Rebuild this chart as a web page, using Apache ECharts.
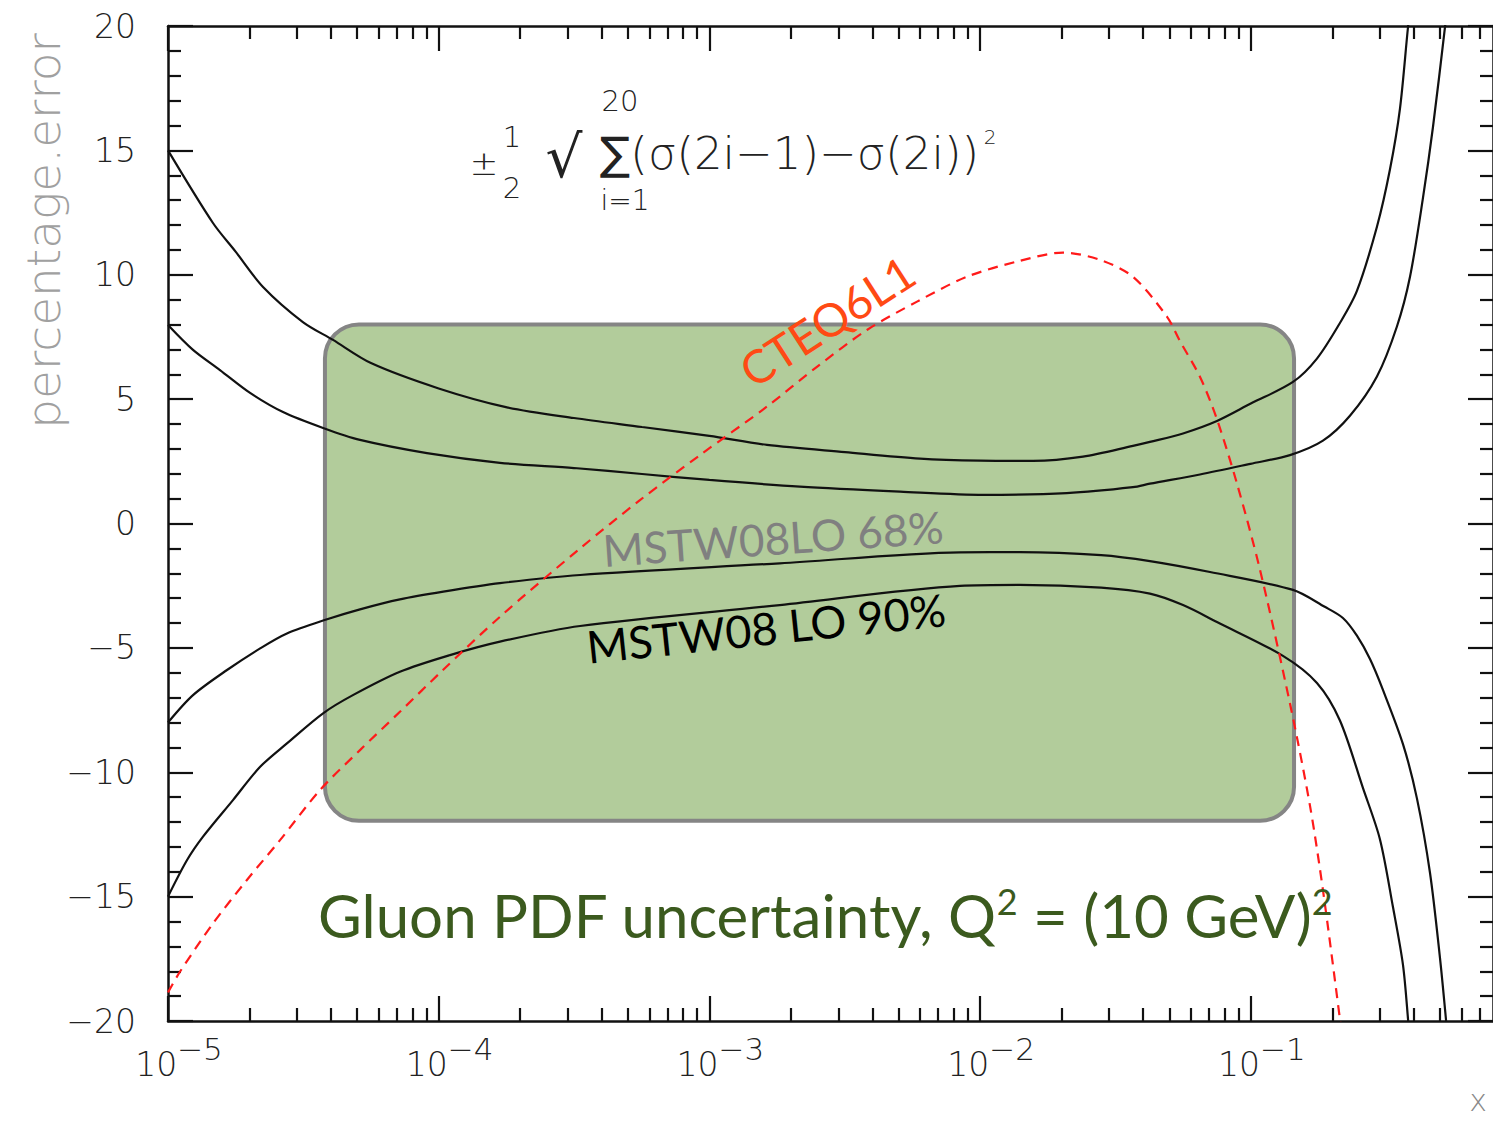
<!DOCTYPE html>
<html><head><meta charset="utf-8">
<script src="https://cdn.jsdelivr.net/npm/echarts@6/dist/echarts.min.js"></script>
<style>html,body{margin:0;padding:0;background:#fff}#c{width:1493px;height:1121px}</style>
</head><body><div id="c"></div>
<script>
// ---- axis ticks ----
const xMajor = [1e-5, 1e-4, 1e-3, 1e-2, 1e-1];
const xMinorMult = [2, 3, 4, 5, 6, 7, 8, 9];
const yTicks = [-20, -15, -10, -5, 0, 5, 10, 15, 20];
const xRange = [1e-5, 0.785];
const yRange = [-20, 20];

// ---- MSTW08 LO 90% upper ----
const up90 = [[1e-5,15.0],[1.466e-5,12.08],[1.78e-5,10.92],[2.244e-5,9.51],[3.15e-5,8.10],[4.07e-5,7.38],
 [5.62e-5,6.45],[1.0e-4,5.43],[1.772e-4,4.68],[3.16e-4,4.24],[5.64e-4,3.88],[1e-3,3.52],[1.632e-3,3.16],
 [3.17e-3,2.87],[6.0e-3,2.61],[1e-2,2.53],[0.0157,2.52],[0.024,2.69],[0.0367,3.12],[0.0424,3.28],[0.0562,3.62],[0.075,4.12],
 [0.1,4.82],[0.1432,5.69],[0.1756,6.63],[0.2135,8.06],[0.2467,9.35],[0.2925,11.93],[0.3267,14.23],
 [0.3557,16.67],[0.381,19.96],[0.386,20.4]];
// ---- MSTW08 LO 68% upper ----
const up68 = [[1e-5,7.98],[1.237e-5,6.98],[1.556e-5,6.17],[2.01e-5,5.25],[2.66e-5,4.48],[3.74e-5,3.84],
 [5.12e-5,3.36],[9.05e-5,2.83],[1.684e-4,2.44],[3.16e-4,2.23],[5.64e-4,1.99],[1e-3,1.75],[2.16e-3,1.48],
 [5.06e-3,1.28],[1.03e-2,1.15],[2.09e-2,1.22],[0.0367,1.46],[0.0424,1.6],[0.0649,1.97],[0.0997,2.4],
 [0.1396,2.75],[0.1848,3.33],[0.2325,4.33],[0.2925,5.91],[0.3467,7.92],[0.3875,9.92],[0.4327,13.09],
 [0.4711,15.94],[0.5219,19.96],[0.526,20.4]];
// ---- MSTW08 LO 68% lower ----
const lo68 = [[1e-5,-8.0],[1.237e-5,-6.9],[1.652e-5,-5.89],[2.19e-5,-5.02],[2.75e-5,-4.42],[3.87e-5,-3.85],
 [5.12e-5,-3.45],[7.19e-5,-3.05],[1.04e-4,-2.74],[1.684e-4,-2.4],[3.33e-4,-2.07],[1.82e-3,-1.6],[8.43e-3,-1.16],
 [1.4e-2,-1.15],[2.8e-2,-1.27],[0.0424,-1.51],[0.0707,-1.95],[0.1432,-2.67],[0.1876,-3.35],[0.219,-3.8],[0.2467,-4.51],
 [0.2757,-5.45],[0.3078,-6.69],[0.365,-8.87],[0.411,-11.05],[0.4594,-14.05],[0.5,-17.46],[0.526,-19.92],[0.53,-20.4]];
// ---- MSTW08 LO 90% lower ----
const lo90 = [[1e-5,-15.0],[1.176e-5,-13.53],[1.347e-5,-12.59],[1.738e-5,-11.12],[2.19e-5,-9.78],[2.75e-5,-8.84],
 [3.74e-5,-7.63],[4.82e-5,-6.9],[7.19e-5,-5.96],[1.101e-4,-5.29],[1.684e-4,-4.75],[3.33e-4,-4.12],[1.82e-3,-3.28],
 [8.43e-3,-2.51],[1.4e-2,-2.47],[2.8e-2,-2.58],[0.0424,-2.82],[0.0562,-3.28],[0.075,-3.96],[0.1315,-5.32],[0.1756,-6.41],
 [0.2135,-7.92],[0.2598,-10.64],[0.30,-12.69],[0.3352,-15.42],[0.365,-17.74],[0.381,-19.92],[0.383,-20.4]];
// ---- CTEQ6L1 ----
const cteq = [[1e-5,-18.85],[1.107e-5,-18.02],[1.466e-5,-16.08],[1.957e-5,-14.33],[2.593e-5,-12.73],[3.64e-5,-10.72],
 [5.12e-5,-9.11],[7.19e-5,-7.57],[1.037e-4,-5.89],[1.684e-4,-3.75],[3.33e-4,-1.0],[5.54e-4,0.94],[9.23e-4,2.75],
 [1.632e-3,4.7],[2.497e-3,6.3],[3.82e-3,7.78],[5.85e-3,8.92],[8.94e-3,9.92],[1.369e-2,10.53],[2.024e-2,10.89],
 [2.773e-2,10.6],[3.67e-2,9.92],[4.90e-2,8.32],[5.47e-2,7.34],[6.49e-2,5.9],[7.50e-2,4.19],[8.89e-2,1.61],
 [0.108,-1.83],[0.1396,-7.24],[0.1654,-11.33],[0.1848,-14.74],[0.2135,-19.92],[0.216,-20.4]];
// ---- highlighted box (data coordinates) ----
const boxX = [3.8e-5, 0.1445];
const boxY = [-11.95, 8];

const xMinor = [];
for (let e = -5; e <= -1; e++) for (const m of xMinorMult) { const v = m * Math.pow(10, e); if (v < xRange[1]) xMinor.push(v); }

const tickFont = '"DejaVu Sans Light","DejaVu Sans ExtraLight","DejaVu Sans",sans-serif';
const ink = '#111';
const lineSt = {color: ink, width: 2.2};

function xAxisDef(pos, ticks, len, showLine, showLabel) {
  return {
    type: 'log', logBase: 10, min: xRange[0], max: xRange[1], position: pos,
    axisLine: {show: showLine, onZero: false, lineStyle: {color: ink, width: 2.5}},
    axisTick: {show: true, inside: true, length: len, customValues: ticks, lineStyle: lineSt},
    axisLabel: {
      show: showLabel, customValues: xMajor, margin: 26,
      formatter: v => '{b|10}{s|\u2212' + (-Math.round(Math.log10(v))) + '}',
      rich: {
        b: {fontSize: 33, fontFamily: tickFont, color: '#222', lineHeight: 34, verticalAlign: 'bottom', padding: [0, 0, 0, 22]},
        s: {fontSize: 31, fontFamily: tickFont, color: '#222', lineHeight: 32, verticalAlign: 'bottom', padding: [0, 0, 17, 0]}
      }
    },
    splitLine: {show: false}, minorTick: {show: false}, minorSplitLine: {show: false}
  };
}
function yAxisDef(pos, showLabel) {
  return {
    type: 'value', min: yRange[0], max: yRange[1], interval: 5, position: pos,
    axisLine: {show: true, onZero: false, lineStyle: {color: ink, width: 2.5}},
    axisTick: {show: true, inside: true, length: 25, lineStyle: lineSt},
    minorTick: {show: true, splitNumber: 5, length: 13, lineStyle: lineSt},
    axisLabel: {show: showLabel, margin: 32, fontSize: 33, fontFamily: tickFont, color: '#222',
      formatter: v => String(v).replace('-', '\u2212')},
    splitLine: {show: false}
  };
}

const chart = echarts.init(document.getElementById('c'), null, {renderer: 'svg'});
const curve = (name, data, color, type, width) => ({
  name, type: 'line', data, symbol: 'none', smooth: 0.3, z: 3,
  lineStyle: {color, width, type}, xAxisIndex: 0, yAxisIndex: 0
});
const txt = (x, y, text, size, fill, extra) => Object.assign({type: 'text', x, y, z: 100,
  style: {text, fontSize: size, fontFamily: tickFont, fill, align: 'center', verticalAlign: 'middle'}}, extra || {});
const lato = 'Lato, "Open Sans", sans-serif';

chart.setOption({
  animation: false,
  backgroundColor: '#fff',
  grid: {left: 168, top: 26, width: 1325, height: 995, containLabel: false},
  xAxis: [
    xAxisDef('bottom', xMajor, 25, true, true),
    xAxisDef('bottom', xMinor, 13, false, false),
    xAxisDef('top', xMajor, 25, true, false),
    xAxisDef('top', xMinor, 13, false, false)
  ],
  yAxis: [yAxisDef('left', true), yAxisDef('right', false)],
  series: [
    {type: 'custom', xAxisIndex: 0, yAxisIndex: 0, z: 1, silent: true, clip: false,
     data: [[boxX[0], boxY[1], boxX[1], boxY[0]]], encode: {x: [0, 2], y: [1, 3]},
     renderItem: (params, api) => {
       const p0 = api.coord([api.value(0), api.value(1)]);
       const p1 = api.coord([api.value(2), api.value(3)]);
       return {type: 'rect', shape: {x: p0[0], y: p0[1], width: p1[0] - p0[0], height: p1[1] - p0[1], r: 34},
         style: {fill: '#b2cc9b', stroke: '#858585', lineWidth: 4}};
     }},
    curve('MSTW08 LO 90% up', up90, ink, 'solid', 2.2),
    curve('MSTW08 LO 68% up', up68, ink, 'solid', 2.2),
    curve('MSTW08 LO 68% down', lo68, ink, 'solid', 2.2),
    curve('MSTW08 LO 90% down', lo90, ink, 'solid', 2.2),
    curve('CTEQ6L1', cteq, '#ff1a1a', [10, 7], 2.2)
  ],
  graphic: [
    txt(43, 231, 'percentage.error', 47, '#a0a0a0', {rotation: Math.PI / 2}),
    txt(1478, 1100, 'x', 30, '#888'),
    txt(620, 101, '20', 29, '#222'),
    txt(484, 163, '\u00b1', 34, '#222'),
    txt(512, 137, '1', 29, '#222'),
    txt(512, 188, '2', 29, '#222'),
    txt(564, 157, '\u221a', 58, '#222'),
    {type: 'text', x: 600, y: 153, z: 100, style: {text: '\u2211(\u03c3(2i\u22121)\u2212\u03c3(2i))', fontSize: 45, fontFamily: tickFont, fill: '#222', align: 'left', verticalAlign: 'middle'}},
    txt(990, 137, '2', 20, '#222'),
    txt(625, 200, 'i=1', 28, '#222'),
    {type: 'text', x: 827, y: 321, z: 100, rotation: 33 * Math.PI / 180,
     style: {text: 'CTEQ6L1', fontSize: 46, fontFamily: lato, fill: '#ff4a14', align: 'center', verticalAlign: 'middle'}},
    {type: 'text', x: 773, y: 538, z: 100, rotation: 4 * Math.PI / 180,
     style: {text: 'MSTW08LO 68%', fontSize: 44, fontFamily: lato, fill: '#808080', align: 'center', verticalAlign: 'middle'}},
    {type: 'text', x: 766, y: 628, z: 100, rotation: 6 * Math.PI / 180,
     style: {text: 'MSTW08 LO 90%', fontSize: 45, fontFamily: lato, fill: '#000', align: 'center', verticalAlign: 'middle'}},
    {type: 'text', x: 825, y: 914, z: 100,
     style: {text: '{a|Gluon PDF uncertainty, Q}{s|2}{a| = (10 GeV)}{s|2}', align: 'center', verticalAlign: 'middle',
       rich: {a: {fontSize: 60, fontFamily: lato, fill: '#3b5a1e', lineHeight: 62, verticalAlign: 'bottom'},
              s: {fontSize: 36, fontFamily: lato, fill: '#3b5a1e', lineHeight: 36, verticalAlign: 'bottom', padding: [0, 0, 26, 0]}}}}
  ]
});
</script></body></html>
